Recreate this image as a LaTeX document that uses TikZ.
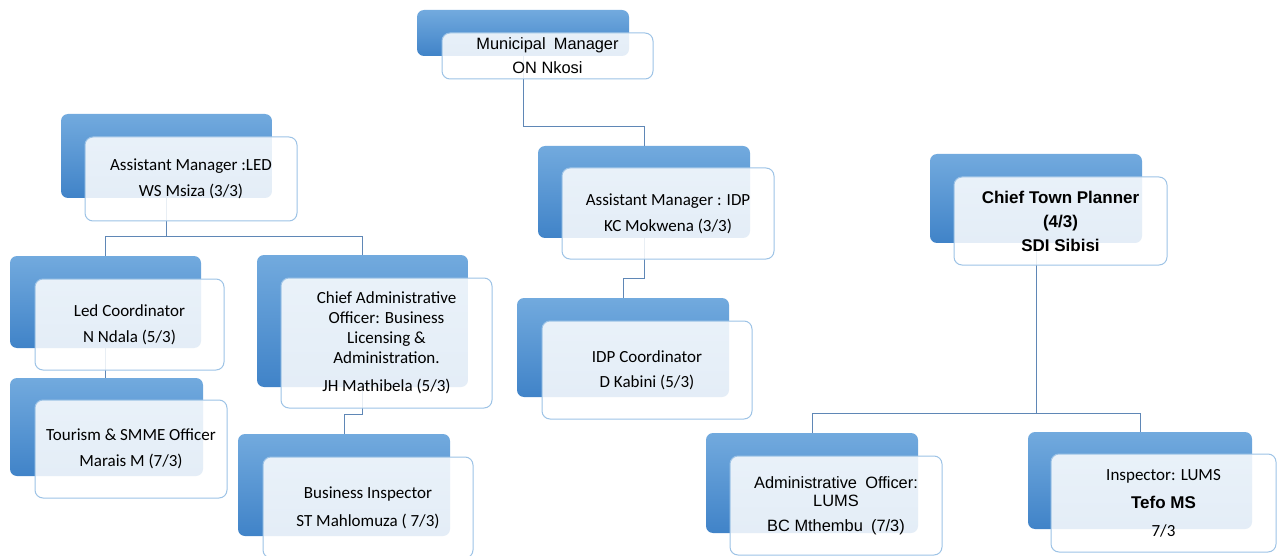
\documentclass[tikz,border=0pt]{standalone}
\usepackage{fontspec}
\newfontfamily\arialf{Liberation Sans}
\newfontfamily\calib{Carlito}
\definecolor{btop}{RGB}{114,170,222}
\definecolor{bbot}{RGB}{64,131,200}
\definecolor{wedge}{RGB}{157,195,230}
\definecolor{lnk}{RGB}{95,135,182}
\tikzset{
  back/.style={rounded corners=7pt, top color=btop, bottom color=bbot, draw=none, inner sep=0pt},
  front/.style={rounded corners=8pt, draw=wedge, line width=1pt, fill=white, fill opacity=0.86, text opacity=1, inner sep=0pt, align=center, text=black},
  conn/.style={draw=lnk, line width=0.9pt},
  cal/.style={font=\calib\fontsize{17}{#1}\selectfont},
  ari/.style={font=\arialf\fontsize{16.4}{#1}\selectfont},
  arib/.style={font=\arialf\bfseries\fontsize{17}{#1}\selectfont},
}
\begin{document}
\begin{tikzpicture}[x=1pt,y=-1pt]
\useasboundingbox (0,0) rectangle (1277,556);
% back (blue) boxes
\node[back, minimum width=212pt, minimum height=46pt] (mmb) at (523,33) {};
\node[back, minimum width=211pt, minimum height=84pt] (ledb) at (166.5,156) {};
\node[back, minimum width=191pt, minimum height=92pt] (lcb) at (105.5,302) {};
\node[back, minimum width=193pt, minimum height=98pt] (tsb) at (106.5,427) {};
\node[back, minimum width=211pt, minimum height=132pt] (cab) at (362.5,321) {};
\node[back, minimum width=212pt, minimum height=102pt] (bib) at (344,485) {};
\node[back, minimum width=212pt, minimum height=92pt] (idpb) at (644,192) {};
\node[back, minimum width=212pt, minimum height=99pt] (icb) at (623,347.5) {};
\node[back, minimum width=212pt, minimum height=89pt] (ctpb) at (1036,198.5) {};
\node[back, minimum width=212pt, minimum height=100pt] (aob) at (812,483) {};
\node[back, minimum width=224pt, minimum height=97pt] (inb) at (1140,480.5) {};
% connectors
\draw[conn] (mmb.south) -- ++(0,70) -| (idpb.north);
\draw[conn] (ledb.south) -- ++(0,38) coordinate (ledj);
\draw[conn] (ledj) -| (lcb.north);
\draw[conn] (ledj) -| (cab.north);
\draw[conn] (lcb.south) -- (lcb.south |- tsb.north);
\draw[conn] (cab.south) -- ++(0,27) -| (bib.north);
\draw[conn] (idpb.south) -- ++(0,40) -| (icb.north);
\draw[conn] (ctpb.south) -- ++(0,170) coordinate (ctpj);
\draw[conn] (ctpj) -| (aob.north);
\draw[conn] (ctpj) -| (inb.north);
% front (white) boxes with text
\node[front, ari=24, minimum width=211pt, minimum height=46pt] (mmf) at (547.5,56) {Municipal\enspace Manager\\ON Nkosi};
\node[front, cal=26, minimum width=212pt, minimum height=84pt] (ledf) at (191,179) {Assistant Manager :LED\\WS Msiza (3/3)};
\node[front, cal=26, minimum width=189pt, minimum height=91pt] (lcf) at (129.5,324.5) {Led Coordinator\\N Ndala (5/3)};
\node[front, cal=26, minimum width=192pt, minimum height=98pt] (tsf) at (131,449) {Tourism \& SMME Officer\\Marais M (7/3)};
\node[front, cal=20, minimum width=211pt, minimum height=130pt] (caf) at (386.5,343) {Chief Administrative\\Officer: Business\\Licensing \&\\Administration.\\[8pt]JH Mathibela (5/3)};
\node[front, cal=28, minimum width=210pt, minimum height=101pt] (bif) at (368,507.5) {Business Inspector\\ST Mahlomuza ( 7/3)};
\node[front, cal=26, minimum width=212pt, minimum height=91pt] (idpf) at (668,213.5) {Assistant Manager : IDP\\KC Mokwena (3/3)};
\node[front, cal=25, minimum width=210pt, minimum height=98pt] (icf) at (647,370) {IDP Coordinator\\D Kabini (5/3)};
\node[front, arib=24, minimum width=213pt, minimum height=88pt] (ctpf) at (1060.5,221) {Chief Town Planner\\(4/3)\\SDI Sibisi};
\node[front, ari=18, minimum width=212pt, minimum height=99pt] (aof) at (836,505.5) {Administrative\enspace Officer:\\LUMS\\[7pt]BC Mthembu\enspace (7/3)};
\node[front, cal=28, minimum width=225pt, minimum height=98pt] (inf) at (1163.5,503) {Inspector: LUMS\\{\arialf\bfseries Tefo MS}\\7/3};
\end{tikzpicture}
\end{document}
